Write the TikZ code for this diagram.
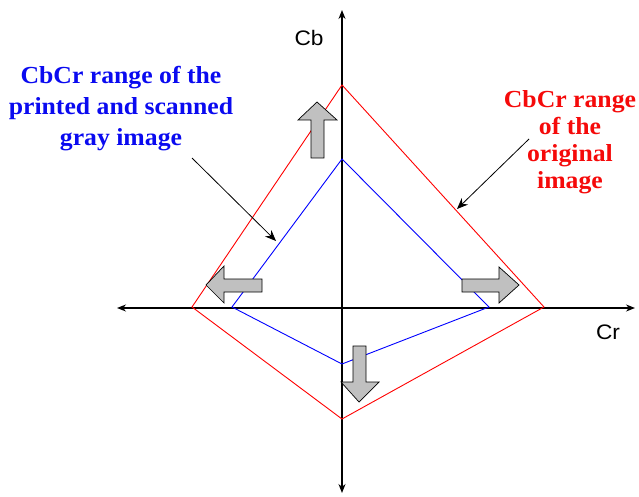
\documentclass[tikz,border=0pt]{standalone}
\usepackage{fontspec}
\setmainfont{Liberation Serif}
\newfontfamily\lblfont{Liberation Serif}[FakeStretch=1.05]
\newfontfamily\axfont{Liberation Sans}[FakeStretch=1.08]
\usetikzlibrary{arrows.meta}
\definecolor{lblblue}{RGB}{10,10,240}
\definecolor{lblred}{RGB}{245,10,10}
\definecolor{arrgray}{RGB}{192,192,192}
\tikzset{
  axis/.style={line width=1.4pt, {Stealth[length=9pt,width=7pt]}-{Stealth[length=9pt,width=7pt]}},
  origrange/.style={draw=red, line width=0.9pt},
  scanrange/.style={draw=blue, line width=0.9pt},
  blockarrow/.style={fill=arrgray, draw=black, line width=0.7pt, line join=miter},
  pointer/.style={line width=0.8pt, -{Stealth[length=11pt,width=9pt]}},
  axislabel/.style={inner sep=0pt, font=\axfont\fontsize{21}{24}\selectfont},
  rangelabel/.style={inner sep=0pt, align=center, font=\lblfont\bfseries\fontsize{24.5}{31}\selectfont}
}
\begin{document}
\begin{tikzpicture}[x=1pt,y=-1pt]
\useasboundingbox (0,0) rectangle (639,497);
% axes
\coordinate (ytop) at (342,10);
\coordinate (ybot) at (342,493);
\coordinate (xleft) at (117,308);
\coordinate (xright) at (635,308);
\draw[axis] (xleft) -- (xright);
\draw[axis] (ybot) -- (ytop);
\node[axislabel, anchor=base] (cb) at (309,46) {Cb};
\node[axislabel, anchor=base] (cr) at (608,339) {Cr};
% original range (red)
\coordinate (rt) at (342,85);
\coordinate (rr) at (544,307);
\coordinate (rb) at (342,419);
\coordinate (rl) at (192,307);
\draw[origrange] (rt) -- (rr) -- (rb) -- (rl) -- cycle;
% printed and scanned range (blue)
\coordinate (bt) at (342,159);
\coordinate (br) at (489,307);
\coordinate (bb) at (342,364);
\coordinate (bl) at (232,307);
\draw[scanrange] (bt) -- (br) -- (bb) -- (bl) -- cycle;
% gray block arrows
\draw[blockarrow] (311,158) -- (311,120) -- (298,120) -- (317,102) -- (337,120) -- (324,120) -- (324,158) -- cycle;
\draw[blockarrow] (353,346) -- (353,382) -- (341,382) -- (359,402) -- (379,382) -- (366,382) -- (366,346) -- cycle;
\draw[blockarrow] (262,279) -- (224,279) -- (224,266) -- (206,285) -- (224,303) -- (224,292) -- (262,292) -- cycle;
\draw[blockarrow] (462,279) -- (499,279) -- (499,267) -- (519,285) -- (499,303) -- (499,292) -- (462,292) -- cycle;
% labels
\node[rangelabel, text=lblblue, anchor=north] (scanlbl) at (121,66) {CbCr range of the\\printed and scanned\\gray image};
\node[rangelabel, text=lblred, anchor=north, font=\lblfont\bfseries\fontsize{24.5}{27}\selectfont] (origlbl) at (570,90) {CbCr range\\of the\\original\\image};
% pointers
\coordinate (p1s) at (192,158);
\coordinate (p1e) at (276,241);
\coordinate (p2s) at (529,139);
\coordinate (p2e) at (457,209);
\draw[pointer] (p1s) -- (p1e);
\draw[pointer] (p2s) -- (p2e);
\end{tikzpicture}
\end{document}
